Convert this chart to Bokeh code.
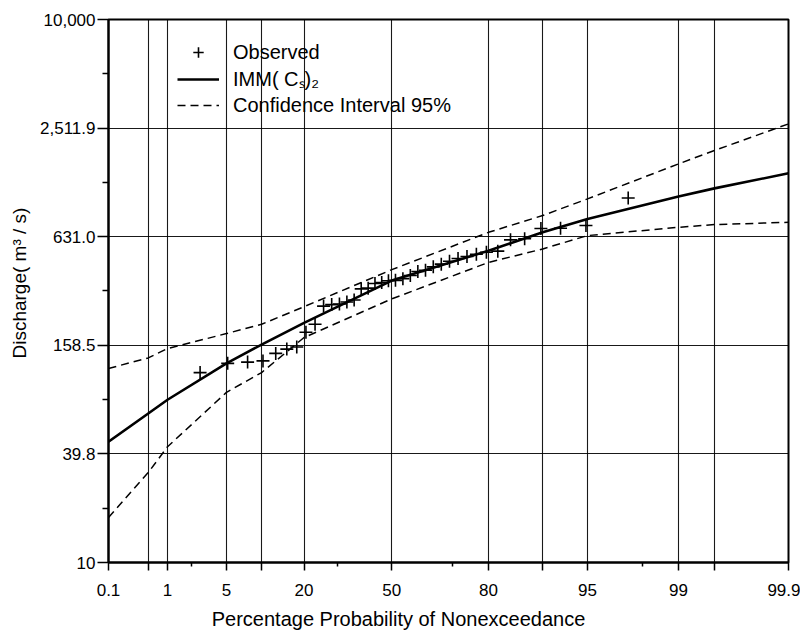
from statistics import NormalDist
import numpy as np
from bokeh.plotting import figure
from bokeh.models import (FixedTicker, Legend, LegendItem, Range1d,
                          ColumnDataSource)
from bokeh.embed import file_html
from bokeh.resources import INLINE

# ---------------- data ----------------
# observed: plotting position (% nonexceedance) and discharge (m3/s)
obs_prob = [2.56, 5.13, 7.69, 10.26, 12.82, 15.38, 17.95, 20.51, 23.08, 25.64,
            28.21, 30.77, 33.33, 35.90, 38.46, 41.03, 43.59, 46.15, 48.72, 51.28,
            53.85, 56.41, 58.97, 61.54, 64.10, 66.67, 69.23, 71.79, 74.36, 76.92,
            79.49, 82.05, 84.62, 87.18, 89.74, 92.31, 94.87, 97.44]
obs_q = [112, 126, 128, 130, 143, 151, 155, 187, 207, 261,
         266, 268, 275, 282, 325, 328, 348, 352, 360, 362,
         370, 385, 405, 412, 430, 445, 462, 478, 490, 505,
         518, 525, 606, 615, 700, 703, 727, 1033]

# fitted IMM(Cs)2 curve
fit_prob = [0.1, 0.5, 1, 5, 10, 20, 50, 80, 90, 95, 99, 99.5, 99.9]
fit_q = [46.5, 66.6, 79.3, 126, 160, 211, 361, 528, 667, 791, 1051, 1167, 1413]

# 95% confidence interval
ci_prob = [0.1, 0.5, 1, 5, 10, 20, 50, 80, 90, 95, 99, 99.5, 99.9]
ci_upper = [118, 135, 152, 184, 207, 259, 415, 667, 826, 1021, 1593, 1888, 2651]
ci_lower = [17.7, 31.4, 43.6, 87.1, 112, 175, 286, 455, 540, 640, 711, 736, 758]

# axis ticks
x_tick_prob = [0.1, 1, 5, 20, 50, 80, 95, 99, 99.9]
x_tick_labels = ["0.1", "1", "5", "20", "50", "80", "95", "99", "99.9"]
x_grid_prob = [0.5, 1, 5, 10, 20, 50, 80, 90, 95, 99, 99.5]
x_minor_prob = [2, 30, 70, 98]
y_ticks = [10, 39.81, 158.49, 630.96, 2511.89, 10000]
y_tick_labels = ["10", "39.8", "158.5", "631.0", "2,511.9", "10,000"]
y_minor = [19.95, 79.43, 316.23, 1258.93, 5011.87]

# ---------------- probability-paper scale ----------------
ND = NormalDist()
# paper positions (0-100 across the frame) of the printed probability rulings
PAPER_P = [0.1, 1, 5, 20, 50, 80, 95, 99, 99.9]
PAPER_POS = [0, 8.68, 17.35, 28.76, 41.66, 55.88, 70.44, 83.82, 100]
PAPER_Z = [ND.inv_cdf(p / 100) for p in PAPER_P]


def paper(probs):
    z = [ND.inv_cdf(p / 100) for p in probs]
    return [float(v) for v in np.interp(z, PAPER_Z, PAPER_POS)]


FONT_NUM = "Liberation Sans"
FONT_TXT = "Liberation Sans"
NBSP = "\u00a0"

p = figure(width=800, height=636, y_axis_type="log",
           x_range=Range1d(0, 100), y_range=Range1d(10, 10000),
           output_backend="svg", toolbar_location=None,
           min_border_left=108, min_border_right=12,
           min_border_top=19, min_border_bottom=74,
           background_fill_color="white", border_fill_color="white")

p.outline_line_color = "black"
p.outline_line_width = 2
p.outline_line_alpha = 1

# grids
xt = paper(x_tick_prob)
xg = paper(x_grid_prob)
xm = paper(x_minor_prob)
p.xgrid.ticker = FixedTicker(ticks=xg)
p.ygrid.ticker = FixedTicker(ticks=y_ticks[1:-1])
for g in (p.xgrid, p.ygrid):
    g.grid_line_color = "black"
    g.grid_line_width = 1.1
    g.grid_line_alpha = 0.9

# x axis
all_major = sorted(set(xt) | set(xg))
p.xaxis.ticker = FixedTicker(ticks=all_major, minor_ticks=xm)
overrides = {v: "" for v in all_major}
for v, s in zip(xt, x_tick_labels):
    overrides[v] = s
p.xaxis.major_label_overrides = overrides
p.xaxis.major_tick_out = 8
p.xaxis.major_tick_in = 0
p.xaxis.minor_tick_out = 4
p.xaxis.minor_tick_in = 0
p.xaxis.major_label_standoff = 13
# title sits left of the frame centre in the original: pad on the right
p.xaxis.axis_label = "Percentage Probability of Nonexceedance" + NBSP * 18
p.xaxis.axis_label_standoff = 9

# y axis
p.yaxis.ticker = FixedTicker(ticks=y_ticks, minor_ticks=y_minor)
p.yaxis.major_label_overrides = {v: s for v, s in zip(y_ticks, y_tick_labels)}
p.yaxis.major_tick_out = 11
p.yaxis.major_tick_in = 0
p.yaxis.minor_tick_out = 6
p.yaxis.minor_tick_in = 0
p.yaxis.major_label_standoff = 2
p.yaxis.axis_label = NBSP * 3 + "Discharge( m³ / s)"
p.yaxis.axis_label_standoff = 7

for ax in (p.xaxis, p.yaxis):
    ax.axis_line_width = 2
    ax.axis_line_color = "black"
    ax.major_tick_line_color = "black"
    ax.major_tick_line_width = 1.5
    ax.minor_tick_line_color = "black"
    ax.minor_tick_line_width = 1.5
    ax.major_label_text_font = FONT_NUM
    ax.major_label_text_font_size = "17px"
    ax.major_label_text_color = "black"
    ax.axis_label_text_font = FONT_TXT
    ax.axis_label_text_font_style = "normal"
    ax.axis_label_text_color = "black"
p.xaxis.axis_label_text_font_size = "20px"
p.yaxis.axis_label_text_font_size = "19px"

# data
src_obs = ColumnDataSource(dict(x=paper(obs_prob), q=obs_q))
src_fit = ColumnDataSource(dict(x=paper(fit_prob), q=fit_q))
src_ci = ColumnDataSource(dict(x=paper(ci_prob), up=ci_upper, lo=ci_lower))

r_up = p.line("x", "up", source=src_ci, line_color="black", line_width=1.5,
              line_dash="8 5")
p.line("x", "lo", source=src_ci, line_color="black", line_width=1.5,
       line_dash="8 5")
r_fit = p.line("x", "q", source=src_fit, line_color="black", line_width=2.6)
r_obs = p.scatter("x", "q", source=src_obs, marker="cross", size=13,
                  line_color="black", line_width=1.6)

legend = Legend(items=[
    LegendItem(label="Observed", renderers=[r_obs]),
    LegendItem(label="IMM( Cₛ)₂", renderers=[r_fit]),
    LegendItem(label="Confidence Interval 95%", renderers=[r_up]),
], location=(69, 444))
legend.label_text_font = FONT_TXT
legend.label_text_font_size = "20px"
legend.label_text_color = "black"
legend.glyph_width = 42
legend.glyph_height = 26
legend.label_height = 26
legend.spacing = 0
legend.padding = 0
legend.margin = 0
legend.label_standoff = 14
legend.border_line_alpha = 0
legend.background_fill_alpha = 0
p.add_layout(legend)

open("out.html", "w").write(file_html(p, INLINE))
